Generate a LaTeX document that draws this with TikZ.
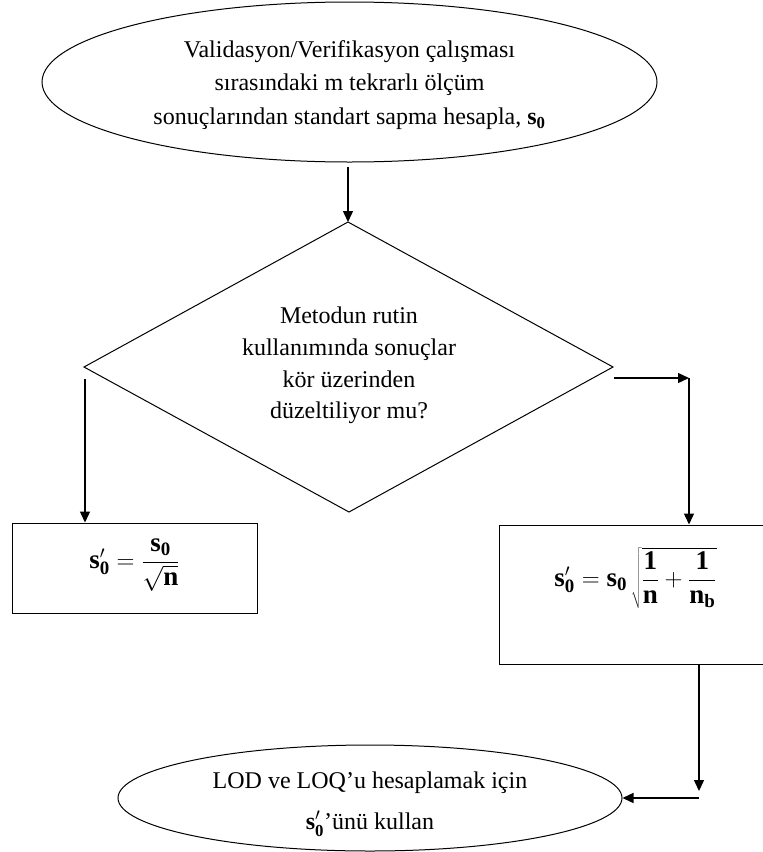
\documentclass[tikz,border=0pt]{standalone}
\usepackage{fontspec}
\setmainfont{Liberation Serif}
\usetikzlibrary{shapes.geometric,arrows.meta}
\begin{document}
\begin{tikzpicture}[x=1pt,y=-1pt,
  shp/.style={draw,line width=1pt},
  oval/.style={shp,ellipse,inner sep=0pt},
  box/.style={shp,rectangle,inner sep=0pt},
  arr/.style={line width=1.4pt,-{Triangle[length=11pt,width=10pt]}},
  txt/.style={align=center,font=\fontsize{24}{33.5}\selectfont,inner sep=0pt},
  dtxt/.style={align=center,font=\fontsize{24}{31.7}\selectfont,inner sep=0pt},
  eq/.style={inner sep=0pt,font=\fontsize{27}{30}\selectfont}]
\useasboundingbox (0,0) rectangle (763,852);
% top ellipse
\node[oval,minimum width=615pt,minimum height=160pt] (te) at (349.5,82) {};
\node[txt] (tt) at (349.5,85)
  {Validasyon/Verifikasyon çalışması\\sırasındaki m tekrarlı ölçüm\\sonuçlarından standart sapma hesapla, \textbf{s\textsubscript{0}}};
% diamond
\coordinate (dt) at (348,222);
\coordinate (dl) at (84,367);
\coordinate (dr) at (613,367);
\coordinate (db) at (349,512);
\draw[shp] (dt) -- (dr) -- (db) -- (dl) -- cycle;
\node[dtxt] (dq) at (349,365.5) {Metodun rutin\\kullanımında sonuçlar\\kör üzerinden\\düzeltiliyor mu?};
% boxes
\node[box,minimum width=245pt,minimum height=90pt] (lb) at (134.5,568) {};
\node[eq] (lf) at (134.5,565) {$\displaystyle \mathbf{s}'_{\mathbf{0}}=\frac{\mathbf{s}_{\mathbf{0}}}{\sqrt{\mathbf{n}}}$};
\node[box,minimum width=266pt,minimum height=139pt] (rb) at (632,594.5) {};
\node[eq] (rf) at (635.5,578) {$\displaystyle \mathbf{s}'_{\mathbf{0}}=\mathbf{s}_{\mathbf{0}}\,\sqrt{\frac{\mathbf{1}}{\mathbf{n}}+\frac{\mathbf{1}}{\mathbf{n}_{\mathbf{b}}}}$};
% bottom ellipse
\node[oval,minimum width=504pt,minimum height=106pt] (be) at (370,798) {};
\node[txt] (bl) at (370,804)
  {LOD ve LOQ’u hesaplamak için\\[8pt]$\mathbf{s}'_{\mathbf{0}}$’ünü kullan};
% connectors
\draw[arr] ([yshift=-4pt]te.south -| dt) -- (dt);
\coordinate (lo) at (85,379);
\draw[arr] (lo) -- (lo |- lb.north);
\coordinate (ro) at (614,378);
\coordinate (rc) at (689,378);
\draw[arr] (ro) -- (rc);
\draw[arr] (rc) -- (rc |- rb.north);
\coordinate (bt) at (699,791);
\coordinate (bh) at (699,798);
\draw[arr] (rb.south -| bt) -- (bt);
\draw[arr] (bh) -- (be.east);
\end{tikzpicture}
\end{document}
